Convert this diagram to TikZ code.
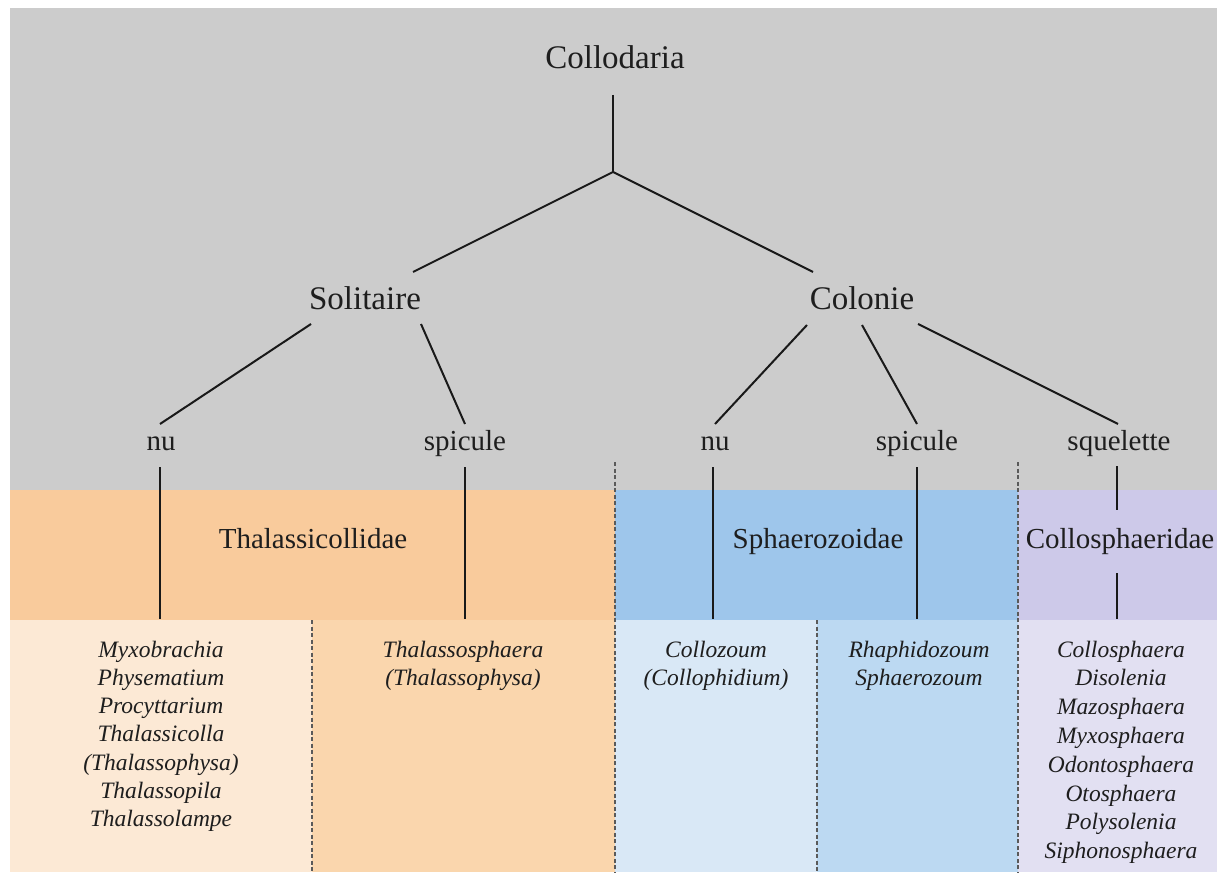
\documentclass[tikz,border=0pt]{standalone}
\usepackage{fontspec}
\setmainfont{Liberation Serif}
\definecolor{bggray}{RGB}{204,204,204}
\definecolor{orband}{RGB}{249,203,156}
\definecolor{blband}{RGB}{158,198,235}
\definecolor{puband}{RGB}{205,201,233}
\definecolor{orlight}{RGB}{252,233,213}
\definecolor{ormid}{RGB}{250,214,173}
\definecolor{bllight}{RGB}{217,232,246}
\definecolor{blmid}{RGB}{188,217,242}
\definecolor{pulight}{RGB}{226,224,242}
\definecolor{txt}{RGB}{30,30,30}
\definecolor{linec}{RGB}{25,25,25}
\definecolor{sepc}{RGB}{90,90,90}
\begin{document}
\begin{tikzpicture}[x=1pt,y=-1pt,
  lbl/.style={inner sep=0pt, anchor=base, text=txt},
  big/.style={lbl, font=\fontsize{33}{40}\selectfont},
  mid/.style={lbl, font=\fontsize{29}{35}\selectfont},
  gen/.style={lbl, font=\fontsize{23.5}{28}\selectfont\itshape},
  link/.style={line width=2pt, draw=linec},
  sepline/.style={line width=1.3pt, draw=sepc, dash pattern=on 4pt off 2.5pt},
]
\useasboundingbox (0,0) rectangle (1217,874);
\fill[white] (0,0) rectangle (1217,874);
% background zones
\fill[bggray] (10,8) rectangle (1217,490);
\fill[orband] (10,490) rectangle (615,620);
\fill[blband] (615,490) rectangle (1018,620);
\fill[puband] (1018,490) rectangle (1217,620);
\fill[orlight] (10,620) rectangle (312,872);
\fill[ormid] (312,620) rectangle (615,872);
\fill[bllight] (615,620) rectangle (817,872);
\fill[blmid] (817,620) rectangle (1018,872);
\fill[pulight] (1018,620) rectangle (1217,872);
% separators
\coordinate (s1a) at (312,620); \coordinate (s1b) at (312,872);
\coordinate (s2a) at (615,462); \coordinate (s2b) at (615,872);
\coordinate (s3a) at (817,620); \coordinate (s3b) at (817,872);
\coordinate (s4a) at (1018,462); \coordinate (s4b) at (1018,872);
\draw[sepline] (s1a) -- (s1b);
\draw[sepline] (s2a) -- (s2b);
\draw[sepline] (s3a) -- (s3b);
\draw[sepline] (s4a) -- (s4b);
% labels
\node[big] (coll) at (615,69) {Collodaria};
\node[big] (sol) at (365,310) {Solitaire};
\node[big] (col) at (862,310) {Colonie};
\node[mid] (nu1) at (161,450) {nu};
\node[mid] (sp1) at (465,450) {spicule};
\node[mid] (nu2) at (715,450) {nu};
\node[mid] (sp2) at (917,450) {spicule};
\node[mid] (sq) at (1119,450) {squelette};
\node[mid] (fam1) at (313,548) {Thalassicollidae};
\node[mid] (fam2) at (818,548) {Sphaerozoidae};
\node[mid] (fam3) at (1120,548) {Collosphaeridae};
% genus lists
\foreach \g [count=\i from 0] in {Myxobrachia,Physematium,Procyttarium,Thalassicolla,(Thalassophysa),Thalassopila,Thalassolampe}
  \node[gen] (ga\i) at (161,{657+28.3*\i}) {\g};
\foreach \g [count=\i from 0] in {Thalassosphaera,(Thalassophysa)}
  \node[gen] (gb\i) at (463,{657+28.3*\i}) {\g};
\foreach \g [count=\i from 0] in {Collozoum,(Collophidium)}
  \node[gen] (gc\i) at (716,{657+28.3*\i}) {\g};
\foreach \g [count=\i from 0] in {Rhaphidozoum,Sphaerozoum}
  \node[gen] (gd\i) at (919,{657+28.3*\i}) {\g};
\foreach \g [count=\i from 0] in {Collosphaera,Disolenia,Mazosphaera,Myxosphaera,Odontosphaera,Otosphaera,Polysolenia,Siphonosphaera}
  \node[gen] (ge\i) at (1121,{657+28.8*\i}) {\g};
% connector end points
\coordinate (c0) at (613,95);
\coordinate (c1) at (613,172);
\coordinate (c2) at (413,272);
\coordinate (c3) at (813,272);
\coordinate (a1) at (311,324); \coordinate (a2) at (160,424);
\coordinate (b1) at (421,324); \coordinate (b2) at (465,424);
\coordinate (d1) at (807,325); \coordinate (d2) at (715,424);
\coordinate (e1) at (862,325); \coordinate (e2) at (917,424);
\coordinate (f1) at (918,324); \coordinate (f2) at (1118,424);
\coordinate (v1a) at (160,467); \coordinate (v1b) at (160,619);
\coordinate (v2a) at (465,467); \coordinate (v2b) at (465,619);
\coordinate (v3a) at (713,467); \coordinate (v3b) at (713,619);
\coordinate (v4a) at (917,467); \coordinate (v4b) at (917,619);
\coordinate (v5a) at (1117,466); \coordinate (v5b) at (1117,510);
\coordinate (v6a) at (1117,573); \coordinate (v6b) at (1117,619);
% connectors
\draw[link] (c0) -- (c1);
\draw[link] (c2) -- (c1) -- (c3);
\draw[link] (a1) -- (a2);
\draw[link] (b1) -- (b2);
\draw[link] (d1) -- (d2);
\draw[link] (e1) -- (e2);
\draw[link] (f1) -- (f2);
\draw[link] (v1a) -- (v1b);
\draw[link] (v2a) -- (v2b);
\draw[link] (v3a) -- (v3b);
\draw[link] (v4a) -- (v4b);
\draw[link] (v5a) -- (v5b);
\draw[link] (v6a) -- (v6b);
\end{tikzpicture}
\end{document}
